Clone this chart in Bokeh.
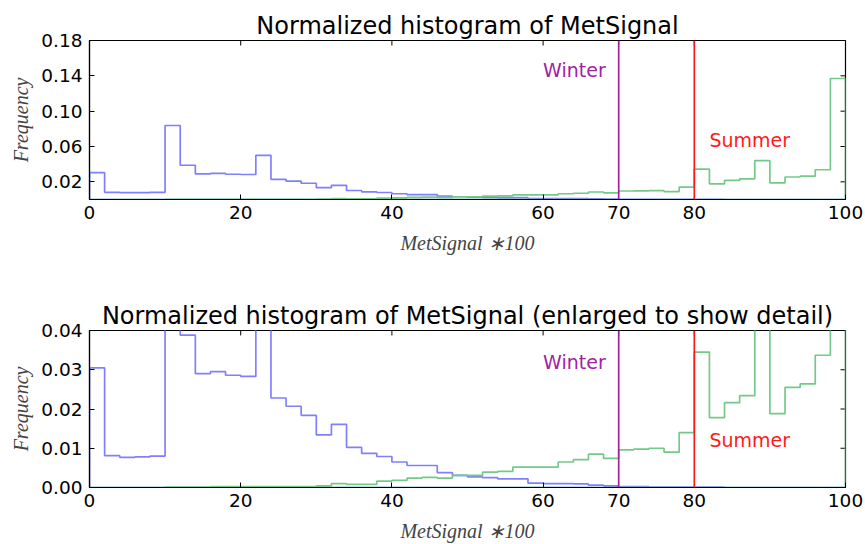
from bokeh.plotting import figure
from bokeh.layouts import column
from bokeh.models import Range1d, FixedTicker, PrintfTickFormatter, LinearAxis, Span
from bokeh.core.properties import value
from bokeh.embed import file_html
from bokeh.resources import INLINE

# ---------------- data ----------------
bin_width = 2
n_bins = 50
edges = [bin_width * i for i in range(n_bins + 1)]

winter_freq = [
    0.0305, 0.0081, 0.0077, 0.0078, 0.0080, 0.0838, 0.0388, 0.0290, 0.0295, 0.0286,
    0.0283, 0.0500, 0.0228, 0.0207, 0.0184, 0.0134, 0.0161, 0.0102, 0.0087, 0.0079,
    0.0065, 0.0056, 0.0056, 0.0038, 0.0031, 0.0027, 0.0025, 0.0022, 0.0022, 0.0011,
    0.0010, 0.0010, 0.0009, 0.0006, 0.0004, 0.0002, 0.0002, 0.0001, 0.0001, 0.0001,
    0.0001, 0.0001, 0.0000, 0.0000, 0.0000, 0.0000, 0.0000, 0.0000, 0.0000, 0.0000,
]
summer_freq = [
    0.0000, 0.0000, 0.0000, 0.0000, 0.0000, 0.0001, 0.0001, 0.0001, 0.0002, 0.0002,
    0.0002, 0.0002, 0.0002, 0.0002, 0.0002, 0.0004, 0.0010, 0.0008, 0.0008, 0.0016,
    0.0018, 0.0024, 0.0026, 0.0024, 0.0031, 0.0031, 0.0039, 0.0041, 0.0052, 0.0052,
    0.0052, 0.0065, 0.0071, 0.0085, 0.0074, 0.0096, 0.0098, 0.0100, 0.0090, 0.0140,
    0.0345, 0.0178, 0.0216, 0.0234, 0.0440, 0.0188, 0.0255, 0.0264, 0.0337, 0.1370,
]

thresholds = [70, 80]
threshold_names = ["Winter", "Summer"]
threshold_colors = ["#a3229f", "#ff1a1a"]
label_x = [60, 82]
label_y_top = [0.147, 0.067]
label_y_bottom = [0.032, 0.012]

x_ticks = [0, 20, 40, 60, 70, 80, 100]
y_ticks_top = [0.02, 0.06, 0.10, 0.14, 0.18]
y_ticks_bottom = [0.00, 0.01, 0.02, 0.03, 0.04]

titles = ["Normalized histogram of MetSignal",
          "Normalized histogram of MetSignal (enlarged to show detail)"]
x_label = "MetSignal \u2217100"
y_label = "Frequency"

BLUE = "#8080ff"
GREEN = "#74c98a"

FRAME_W = 756.0
FRAME_H = 159.0
TICK_PX = 5.0


def outline(e, h):
    xs = [e[0]]
    ys = [0.0]
    for i, v in enumerate(h):
        xs += [e[i], e[i + 1]]
        ys += [v, v]
    xs += [e[-1], e[0]]
    ys += [0.0, 0.0]
    return xs, ys


def make_panel(title, y_max, y_ticks, label_y, height, border_top, border_bottom):
    p = figure(width=865, height=height, output_backend="svg", toolbar_location=None,
               x_range=Range1d(0, 100), y_range=Range1d(0, y_max),
               min_border_left=89, min_border_right=20,
               min_border_top=border_top, min_border_bottom=border_bottom,
               x_axis_location=None, y_axis_location=None)
    p.grid.visible = False
    p.background_fill_color = "white"
    p.outline_line_color = "black"
    p.outline_line_width = 1.2

    p.title.text = title
    p.title.align = "center"
    p.title.text_font = "DejaVu Sans"
    p.title.text_font_size = "24px"
    p.title.text_font_style = "normal"
    p.title.text_color = "black"
    p.title.standoff = 2

    def style(ax):
        ax.major_tick_in = 5
        ax.major_tick_out = 0
        ax.minor_tick_line_color = None
        ax.axis_line_color = "black"
        ax.axis_line_width = 1.2
        ax.major_tick_line_color = "black"
        ax.major_label_text_font = "DejaVu Sans"
        ax.major_label_text_font_size = "18.5px"
        ax.major_label_text_color = "black"

    xb = LinearAxis(ticker=FixedTicker(ticks=x_ticks))
    style(xb)
    xb.major_label_standoff = 6
    xb.axis_label = x_label
    xb.axis_label_text_font = "Liberation Serif"
    xb.axis_label_text_font_style = "italic"
    xb.axis_label_text_font_size = "20px"
    xb.axis_label_standoff = 10
    p.add_layout(xb, "below")

    yl = LinearAxis(ticker=FixedTicker(ticks=y_ticks),
                    formatter=PrintfTickFormatter(format="%.2f"))
    style(yl)
    yl.major_label_standoff = 7
    yl.axis_label = y_label
    yl.axis_label_text_font = "Liberation Serif"
    yl.axis_label_text_font_style = "italic"
    yl.axis_label_text_font_size = "20px"
    yl.axis_label_standoff = 6
    p.add_layout(yl, "left")

    # inward ticks on the top and right edges of the frame
    dy = y_max * TICK_PX / FRAME_H
    dx = 100.0 * TICK_PX / FRAME_W
    p.segment(x0=x_ticks, y0=[y_max] * len(x_ticks), x1=x_ticks,
              y1=[y_max - dy] * len(x_ticks), line_color="black", line_width=1)
    p.segment(x0=[100] * len(y_ticks), y0=y_ticks, x1=[100 - dx] * len(y_ticks),
              y1=y_ticks, line_color="black", line_width=1)

    bx, by = outline(edges, winter_freq)
    p.line(bx, by, line_color=BLUE, line_width=1.7)
    gx, gy = outline(edges, summer_freq)
    p.line(gx, gy, line_color=GREEN, line_width=1.7)

    for loc, col in zip(thresholds, threshold_colors):
        p.add_layout(Span(location=loc, dimension="height", line_color=col, line_width=1.7))

    p.text(x=label_x, y=label_y, text=threshold_names, text_color=threshold_colors,
           text_font=value("DejaVu Sans"), text_font_size="19px",
           text_align="left", text_baseline="middle")
    return p


p1 = make_panel(titles[0], 0.18, y_ticks_top, label_y_top, 270, 40, 71)
p2 = make_panel(titles[1], 0.04, y_ticks_bottom, label_y_bottom, 274, 60, 55)

layout = column(p1, p2, spacing=0)
open("out.html", "w").write(file_html(layout, INLINE))
